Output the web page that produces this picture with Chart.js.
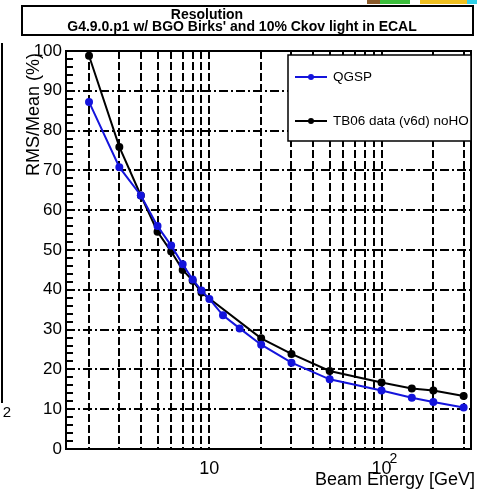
<!DOCTYPE html>
<html>
<head>
<meta charset="utf-8">
<script src="https://cdn.jsdelivr.net/npm/chart.js@4.4.0/dist/chart.umd.min.js"></script>
<style>
  body { margin: 0; background: #fff; }
  canvas { display: block; }
</style>
</head>
<body>
<canvas id="res-chart" width="477" height="492"></canvas>
<script>
// beam energies (GeV) and RMS/Mean (%)
const energiesQGSP = [2, 3, 4, 5, 6, 7, 8, 9, 10, 12, 15, 20, 30, 50, 100, 150, 200, 300];
const resQGSP = [87.2, 70.8, 63.7, 56.0, 51.1, 46.4, 42.6, 39.8, 37.7, 33.6, 30.3, 26.2, 21.7, 17.5, 14.7, 12.9, 11.8, 10.4];
const energiesData = [2, 3, 4, 5, 6, 7, 8, 9, 20, 30, 50, 100, 150, 200, 300];
const resData = [98.8, 75.9, 63.7, 54.6, 49.6, 45.0, 42.3, 39.3, 27.8, 23.9, 19.6, 16.7, 15.2, 14.7, 13.3];
const seriesNames = ["QGSP", "TB06 data (v6d) noHO"];

const xGridTicks = [2, 3, 4, 5, 6, 7, 8, 9, 10, 20, 30, 40, 50, 60, 70, 80, 90, 100, 200, 300];
const yTicks = [0, 10, 20, 30, 40, 50, 60, 70, 80, 90, 100];

const FONT = "'Liberation Sans', Arial, sans-serif";

function toPoints(xs, ys) {
  return xs.map((x, i) => ({ x: x, y: ys[i] }));
}

const decor = {
  id: "decor",
  beforeDatasetsDraw(chart) {
    const ctx = chart.ctx;
    const a = chart.chartArea;
    const y = chart.scales.y;
    ctx.save();
    // minor ticks on the left axis
    ctx.strokeStyle = "#000";
    ctx.lineWidth = 2;
    for (let v = 2; v < 100; v += 2) {
      if (v % 10 === 0) continue;
      const py = Math.round(y.getPixelForValue(v));
      ctx.beginPath();
      ctx.moveTo(a.left, py);
      ctx.lineTo(a.left + 7, py);
      ctx.stroke();
    }
    // frame
    ctx.lineWidth = 2;
    ctx.strokeRect(a.left, a.top, a.right - a.left, a.bottom - a.top);
    ctx.restore();
  },
  afterDraw(chart) {
    const ctx = chart.ctx;
    const x = chart.scales.x;
    ctx.save();

    // superscript of the 10^2 label
    ctx.fillStyle = "#000";
    ctx.font = "14px " + FONT;
    ctx.textAlign = "left";
    ctx.textBaseline = "middle";
    ctx.fillText("2", x.getPixelForValue(100) + 8, 459);

    // title box
    ctx.fillStyle = "#fff";
    ctx.fillRect(22, 6, 451, 29);
    ctx.strokeStyle = "#000";
    ctx.lineWidth = 2;
    ctx.strokeRect(22, 6, 451, 29);
    ctx.fillStyle = "#000";
    ctx.font = "bold 14px " + FONT;
    ctx.textAlign = "center";
    ctx.textBaseline = "middle";
    ctx.fillText("Resolution", 207, 15.5);
    ctx.fillText("G4.9.0.p1 w/ BGO Birks' and 10% Ckov light in ECAL", 242, 27.5);

    // legend
    ctx.fillStyle = "#fff";
    ctx.fillRect(288, 55, 183, 86);
    ctx.strokeStyle = "#000";
    ctx.lineWidth = 1.5;
    ctx.strokeRect(288, 55, 183, 86);
    const rows = [77, 121];
    chart.data.datasets.forEach((ds, i) => {
      const ly = rows[i];
      ctx.strokeStyle = ds.borderColor;
      ctx.lineWidth = 2;
      ctx.beginPath();
      ctx.moveTo(295, ly);
      ctx.lineTo(327, ly);
      ctx.stroke();
      ctx.fillStyle = ds.borderColor;
      ctx.beginPath();
      ctx.arc(311, ly, 3, 0, Math.PI * 2);
      ctx.fill();
      ctx.fillStyle = "#000";
      ctx.font = "13.5px " + FONT;
      ctx.textAlign = "left";
      ctx.textBaseline = "middle";
      ctx.fillText(ds.label, 333, ly);
    });

    // axis titles
    ctx.fillStyle = "#000";
    ctx.font = "18px " + FONT;
    ctx.textAlign = "right";
    ctx.textBaseline = "alphabetic";
    ctx.fillText("Beam Energy [GeV]", 475, 485);
    ctx.save();
    ctx.translate(39, 53);
    ctx.rotate(-Math.PI / 2);
    ctx.textAlign = "right";
    ctx.fillText("RMS/Mean (%)", 0, 0);
    ctx.restore();

    // bits of the neighbouring panels
    ctx.strokeStyle = "#000";
    ctx.lineWidth = 2;
    ctx.beginPath();
    ctx.moveTo(2, 43);
    ctx.lineTo(2, 403);
    ctx.stroke();
    ctx.font = "15px " + FONT;
    ctx.textAlign = "center";
    ctx.textBaseline = "middle";
    ctx.fillText("2", 7, 413);
    ctx.fillStyle = "#8a5a2a";
    ctx.fillRect(367, 0, 13, 4);
    ctx.fillStyle = "#3cbf3c";
    ctx.fillRect(380, 0, 30, 4);
    ctx.fillStyle = "#f0c020";
    ctx.fillRect(420, 0, 47, 4);
    ctx.fillStyle = "#30d0e8";
    ctx.fillRect(467, 0, 10, 4);

    ctx.restore();
  },
};

new Chart(document.getElementById("res-chart").getContext("2d"), {
  type: "scatter",
  data: {
    datasets: [
      {
        label: seriesNames[0],
        data: toPoints(energiesQGSP, resQGSP),
        showLine: true,
        borderColor: "#1414dc",
        backgroundColor: "#1414dc",
        borderWidth: 2,
        pointRadius: 3,
        tension: 0,
      },
      {
        label: seriesNames[1],
        data: toPoints(energiesData, resData),
        showLine: true,
        borderColor: "#000",
        backgroundColor: "#000",
        borderWidth: 2,
        pointRadius: 3,
        tension: 0,
      },
    ],
  },
  options: {
    responsive: false,
    animation: false,
    layout: { padding: { top: 51, right: 5, left: 0, bottom: 0 } },
    plugins: {
      legend: { display: false },
      tooltip: { enabled: false },
    },
    scales: {
      x: {
        type: "logarithmic",
        min: 1.47,
        max: 331,
        afterBuildTicks: (s) => {
          s.ticks = xGridTicks.map((v) => ({ value: v }));
        },
        afterFit: (s) => {
          s.height = 43;
        },
        ticks: {
          autoSkip: false,
          maxRotation: 0,
          padding: 9,
          color: "#000",
          font: { family: FONT, size: 18 },
          callback: (v) => (v === 10 || v === 100 ? "10" : ""),
        },
        grid: { color: "#000", lineWidth: 2, drawTicks: false },
        border: { display: false, dash: [8, 3] },
      },
      y: {
        min: 0,
        max: 100,
        afterBuildTicks: (s) => {
          s.ticks = yTicks.map((v) => ({ value: v }));
        },
        afterFit: (s) => {
          s.width = 66;
        },
        ticks: {
          padding: 4,
          color: "#000",
          font: { family: FONT, size: 17 },
        },
        grid: { color: "#000", lineWidth: 2, drawTicks: false },
        border: { display: false, dash: [9, 3, 2, 3] },
      },
    },
  },
  plugins: [decor],
});
</script>
</body>
</html>
